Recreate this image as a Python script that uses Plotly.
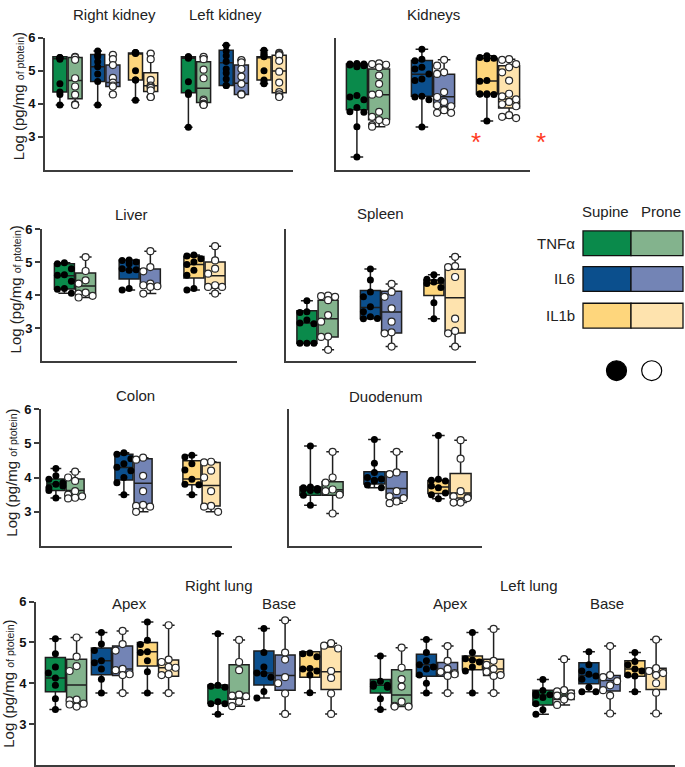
import plotly.graph_objects as go

W, H = 685, 767

# ---------------- data ----------------
CYTOKINES = ["TNFα", "IL6", "IL1b"]
POSITIONS = ["Supine", "Prone"]
# order inside every group: TNFα-Supine, TNFα-Prone, IL6-Supine, IL6-Prone, IL1b-Supine, IL1b-Prone

right_kidney_pts = [
    [5.40, 5.40, 5.38, 5.35, 4.60, 4.35, 4.28, 3.96],
    [5.42, 5.40, 5.33, 4.77, 4.52, 4.27, 3.98, 3.96],
    [5.60, 5.47, 5.42, 5.27, 5.12, 4.90, 4.67, 3.96],
    [5.48, 5.35, 5.17, 4.78, 4.64, 4.55, 4.52, 4.28],
    [5.55, 5.55, 5.54, 5.52, 5.00, 4.72, 4.72, 4.10],
    [5.52, 5.35, 4.72, 4.55, 4.52, 4.48, 4.40, 4.20, 4.20],
]
right_kidney_box = [[4.35, 5.36, 5.42], [4.15, 4.70, 5.40], [4.67, 5.12, 5.49],
                    [4.52, 4.64, 5.17], [4.72, 5.52, 5.54], [4.37, 4.54, 4.94]]

left_kidney_pts = [
    [5.42, 5.42, 5.40, 5.38, 4.66, 4.33, 4.28, 3.28],
    [5.42, 5.35, 5.03, 4.77, 4.12, 4.08, 4.00, 3.97, 3.96],
    [5.77, 5.60, 5.45, 5.28, 5.05, 4.93, 4.75, 4.55, 4.55],
    [5.32, 5.25, 5.05, 4.82, 4.60, 4.30, 4.28, 4.28],
    [5.62, 5.55, 5.50, 5.45, 5.42, 5.00, 4.72, 4.65, 4.60],
    [5.54, 5.50, 5.47, 5.30, 4.97, 4.64, 4.35, 4.28, 4.22, 4.20],
]
left_kidney_box = [[4.33, 5.38, 5.42], [4.03, 4.47, 5.27], [4.55, 5.24, 5.62],
                   [4.28, 4.62, 5.17], [4.72, 5.40, 5.42], [4.33, 4.99, 5.47]]

kidneys_pts = [
    [5.22, 5.20, 5.20, 5.18, 5.17, 5.15, 5.12, 4.25, 4.20, 4.12, 3.88, 3.75, 3.74, 3.30, 2.38],
    [5.22, 5.20, 5.18, 5.10, 4.85, 4.60, 4.30, 4.27, 3.75, 3.60, 3.50, 3.45, 3.35, 3.30],
    [5.65, 5.35, 5.30, 5.10, 5.05, 4.90, 4.75, 4.70, 4.22, 4.20, 4.12, 3.29],
    [5.33, 5.15, 4.95, 4.90, 4.35, 4.20, 4.05, 3.95, 3.92, 3.80, 3.72, 3.72],
    [5.45, 5.40, 5.38, 5.36, 4.70, 4.68, 4.30, 4.29, 4.28, 4.28, 4.29, 3.47],
    [5.35, 5.33, 5.20, 5.10, 4.95, 4.70, 4.30, 4.22, 4.13, 4.05, 3.98, 3.92, 3.65, 3.60, 3.56],
]
kidneys_box = [[3.81, 5.15, 5.20], [3.51, 4.27, 5.05], [4.22, 4.89, 5.31],
               [3.91, 4.21, 4.89], [4.29, 4.69, 5.38], [3.87, 4.14, 5.15]]

liver_pts = [
    [4.98, 4.95, 4.80, 4.62, 4.60, 4.42, 4.20, 4.18, 4.06],
    [5.15, 4.73, 4.45, 4.35, 4.08, 4.05, 3.98, 3.93],
    [5.06, 5.05, 5.00, 4.95, 4.80, 4.77, 4.75, 4.20, 4.16],
    [5.33, 4.85, 4.72, 4.35, 4.30, 4.27, 4.25, 4.05],
    [5.21, 5.18, 5.10, 5.00, 4.93, 4.75, 4.60, 4.20, 4.16],
    [5.48, 5.05, 4.80, 4.65, 4.30, 4.25, 4.25, 4.05],
]
liver_box = [[4.19, 4.59, 4.95], [4.05, 4.28, 4.67], [4.49, 4.76, 5.06],
             [4.27, 4.34, 4.79], [4.52, 4.93, 5.17], [4.22, 4.59, 5.00]]

spleen_pts = [
    [3.83, 3.50, 3.48, 3.25, 3.16, 3.14, 2.55, 2.55, 2.55],
    [3.99, 3.97, 3.95, 3.85, 3.40, 3.20, 2.75, 2.74, 2.35],
    [4.79, 4.46, 4.10, 3.95, 3.65, 3.50, 3.35, 3.30, 3.29],
    [4.34, 4.10, 3.95, 3.60, 3.20, 2.88, 2.85, 2.45],
    [4.62, 4.48, 4.45, 4.40, 4.35, 4.23, 3.77, 3.29],
    [5.16, 4.88, 4.85, 4.55, 3.29, 2.92, 2.85, 2.45],
]
spleen_box = [[2.55, 3.16, 3.53], [2.74, 3.29, 3.85], [3.29, 3.63, 4.14],
              [2.86, 3.49, 4.12], [3.99, 4.36, 4.46], [2.86, 3.92, 4.78]]

colon_pts = [
    [4.26, 4.05, 3.95, 3.85, 3.80, 3.75, 3.70, 3.62, 3.40],
    [4.17, 4.00, 3.90, 3.60, 3.50, 3.45, 3.41, 3.39],
    [4.72, 4.68, 4.55, 4.40, 4.30, 4.20, 4.00, 3.85, 3.50],
    [4.58, 4.52, 4.05, 3.60, 3.20, 3.17, 3.15, 3.00],
    [4.65, 4.60, 4.40, 4.22, 3.95, 3.80, 3.79, 3.50],
    [4.46, 4.44, 4.20, 4.00, 3.60, 3.17, 3.15, 3.00],
]
colon_box = [[3.62, 3.81, 3.96], [3.43, 3.62, 3.96], [3.93, 4.29, 4.68],
             [3.17, 3.83, 4.55], [3.79, 3.96, 4.49], [3.17, 3.77, 4.44]]

duodenum_pts = [
    [4.92, 3.72, 3.70, 3.68, 3.65, 3.63, 3.62, 3.48, 3.19],
    [4.75, 4.00, 3.85, 3.65, 3.60, 3.50, 2.95],
    [5.11, 4.42, 4.15, 4.00, 3.96, 3.92, 3.90, 3.78, 3.70],
    [4.75, 4.15, 4.10, 3.60, 3.45, 3.40, 3.30, 3.25],
    [5.23, 3.95, 3.92, 3.90, 3.75, 3.70, 3.55, 3.50, 3.38],
    [5.09, 4.55, 3.60, 3.45, 3.42, 3.40, 3.27, 3.27],
]
duodenum_box = [[3.48, 3.63, 3.72], [3.48, 3.64, 3.88], [3.81, 3.96, 4.17],
                [3.40, 3.68, 4.17], [3.53, 3.72, 3.91], [3.40, 3.55, 4.12]]

right_apex_pts = [
    [5.09, 4.72, 4.40, 4.25, 4.13, 3.95, 3.62, 3.36],
    [5.12, 4.65, 4.42, 4.30, 3.60, 3.58, 3.50, 3.48, 3.43],
    [5.24, 4.96, 4.80, 4.55, 4.50, 4.35, 4.10, 3.76],
    [5.28, 4.96, 4.80, 4.35, 4.32, 4.22, 4.20, 3.76],
    [5.50, 5.05, 4.95, 4.77, 4.75, 4.55, 4.28, 3.76],
    [5.42, 4.58, 4.52, 4.40, 4.38, 4.22, 4.20, 3.76],
]
right_apex_box = [[3.79, 4.13, 4.63], [3.50, 3.96, 4.59], [4.21, 4.55, 4.86],
                  [4.19, 4.35, 4.91], [4.42, 4.77, 5.00], [4.17, 4.38, 4.57]]

right_base_pts = [
    [5.21, 3.95, 3.93, 3.90, 3.55, 3.50, 3.50, 3.24],
    [5.06, 4.52, 4.32, 3.72, 3.70, 3.68, 3.55, 3.44],
    [5.34, 4.75, 4.40, 4.25, 4.23, 4.15, 3.80, 3.64],
    [5.54, 4.75, 4.58, 4.15, 4.00, 3.75, 3.25],
    [4.74, 4.72, 4.65, 4.36, 4.35, 4.30, 4.20, 3.77],
    [4.98, 4.92, 4.85, 4.30, 4.13, 3.75, 3.25],
]
right_base_box = [[3.51, 3.89, 3.96], [3.61, 3.75, 4.45], [3.96, 4.25, 4.79],
                  [3.83, 4.19, 4.69], [4.15, 4.35, 4.77], [3.85, 4.28, 4.89]]

left_apex_pts = [
    [4.67, 4.05, 3.98, 3.95, 3.93, 3.90, 3.62, 3.36],
    [4.87, 4.38, 4.10, 3.92, 3.55, 3.45, 3.43, 3.43],
    [5.07, 4.75, 4.55, 4.45, 4.40, 4.35, 4.20, 4.00, 3.76],
    [4.91, 4.55, 4.35, 4.28, 4.25, 4.22, 4.18, 3.76],
    [5.24, 4.75, 4.60, 4.57, 4.52, 4.40, 4.30, 3.76],
    [5.33, 4.55, 4.45, 4.35, 4.28, 4.20, 4.18, 3.76],
]
left_apex_box = [[3.76, 3.95, 4.09], [3.43, 3.71, 4.33], [4.17, 4.45, 4.71],
                 [4.17, 4.27, 4.51], [4.33, 4.57, 4.67], [4.19, 4.35, 4.59]]

left_base_pts = [
    [4.09, 3.82, 3.75, 3.72, 3.70, 3.65, 3.50, 3.35, 3.24],
    [4.59, 3.83, 3.80, 3.75, 3.70, 3.68, 3.60, 3.47],
    [4.77, 4.45, 4.30, 4.22, 4.18, 4.10, 3.90, 3.79, 3.79],
    [4.91, 4.20, 4.15, 4.05, 3.95, 3.83, 3.70, 3.26],
    [4.75, 4.53, 4.45, 4.35, 4.30, 4.20, 4.18, 3.79],
    [5.07, 4.37, 4.30, 4.25, 4.20, 4.00, 3.77, 3.26],
]
left_base_box = [[3.47, 3.71, 3.83], [3.60, 3.71, 3.83], [3.99, 4.19, 4.50],
                 [3.81, 4.07, 4.19], [4.17, 4.35, 4.55], [3.85, 4.25, 4.37]]

Y_TICKS = [3, 4, 5, 6]

# ---------------- style ----------------
FILL = {
    ("TNFα", "Supine"): "#0a8a4b", ("TNFα", "Prone"): "#83b38d",
    ("IL6", "Supine"): "#0b4f8d", ("IL6", "Prone"): "#7384b5",
    ("IL1b", "Supine"): "#fed67c", ("IL1b", "Prone"): "#fee3ae",
}
AX = "#3c3c3c"
FONT = "Liberation Sans, Arial, sans-serif"
TXT = "#222222"

# panel layout (pixel frame of axes, box placement parameters)
panels = [
    dict(groups=[(right_kidney_pts, right_kidney_box), (left_kidney_pts, left_kidney_box)],
         px=(45, 293), py=(31, 164), ticks=True, first=22.5, step=37.8, gstep=128.5, w=14),
    dict(groups=[(kidneys_pts, kidneys_box)],
         px=(336, 530), py=(31, 164), ticks=False, first=32, step=65, gstep=0, w=21),
    dict(groups=[(liver_pts, liver_box)],
         px=(42, 237), py=(224, 357.7), ticks=True, first=33, step=64.75, gstep=0, w=20),
    dict(groups=[(spleen_pts, spleen_box)],
         px=(286, 476), py=(224, 357.7), ticks=False, first=31.5, step=63.5, gstep=0, w=20),
    dict(groups=[(colon_pts, colon_box)],
         px=(41, 232), py=(405.7, 544), ticks=True, first=24.5, step=68, gstep=0, w=18),
    dict(groups=[(duodenum_pts, duodenum_box)],
         px=(289, 482), py=(405.7, 544), ticks=False, first=32.5, step=64, gstep=0, w=21),
    dict(groups=[(right_apex_pts, right_apex_box), (right_base_pts, right_base_box),
                 (left_apex_pts, left_apex_box), (left_base_pts, left_base_box)],
         px=(36, 675), py=(600, 765), ticks=True, first=30, step=46, gstep=162.5, w=20),
]


def px2x(p):
    return p / W


def px2y(p):
    return 1 - p / H


def spread(vals, width, unit_px, msize):
    """deterministic beeswarm-like horizontal offsets (x units are pixels)"""
    thr = msize / unit_px
    stp = msize
    maxoff = width / 2 - 2
    cands = [0.0]
    k = 1
    while k * stp <= maxoff + 0.01:
        cands += [-k * stp, k * stp]
        k += 1
    placed, offs = [], []
    for i, v in enumerate(vals):
        chosen = None
        for c in cands:
            if all(abs(v - pv) >= thr or abs(c - po) >= stp * 0.95 for pv, po in placed):
                chosen = c
                break
        if chosen is None:
            chosen = cands[i % len(cands)]
        placed.append((v, chosen))
        offs.append(chosen)
    return offs


fig = go.Figure()
layout = dict(width=W, height=H, margin=dict(l=0, r=0, t=0, b=0),
              paper_bgcolor="white", plot_bgcolor="white", showlegend=False,
              boxmode="overlay", font=dict(family=FONT, color=TXT))

MS = 7
for k, p in enumerate(panels, start=1):
    sx = "" if k == 1 else str(k)
    x0, x1 = p["px"]
    y6, y2 = p["py"]
    unit_px = (y2 - y6) / 4.0
    layout["xaxis" + sx] = dict(domain=[px2x(x0), px2x(x1)], range=[0, x1 - x0],
                                showline=True, linecolor=AX, linewidth=2, showgrid=False,
                                zeroline=False, showticklabels=False, ticks="",
                                anchor="y" + sx, fixedrange=True)
    yax = dict(domain=[px2y(y2), px2y(y6)], range=[2, 6], showline=True, linecolor=AX,
               linewidth=2, showgrid=False, zeroline=False, anchor="x" + sx, fixedrange=True)
    if p["ticks"]:
        yax.update(tickvals=Y_TICKS, ticktext=[f"<b>{t}</b>" for t in Y_TICKS], ticks="outside",
                   ticklen=5, tickwidth=2, tickcolor=AX,
                   tickfont=dict(size=13, color="#111111", family=FONT))
    else:
        yax.update(showticklabels=False, ticks="")
    layout["yaxis" + sx] = yax

    sup_x, sup_y, pro_x, pro_y = [], [], [], []
    for g, (pts, boxes) in enumerate(p["groups"]):
        for ci, cyt in enumerate(CYTOKINES):
            pc = p["first"] + g * p["gstep"] + ci * p["step"]
            for pi, pos in enumerate(POSITIONS):
                idx = ci * 2 + pi
                w = p["w"]
                cx = pc + (-1 if pi == 0 else 1) * (w / 2 + 0.6)
                vals = pts[idx]
                q1, med, q3 = boxes[idx]
                fig.add_trace(go.Box(
                    x=[cx], q1=[q1], median=[med], q3=[q3],
                    lowerfence=[min(vals)], upperfence=[max(vals)],
                    width=w, whiskerwidth=0.6, fillcolor=FILL[(cyt, pos)],
                    line=dict(color="#1e1e1e", width=1.5), boxpoints=False,
                    hoverinfo="skip", xaxis="x" + sx, yaxis="y" + sx,
                ))
                offs = spread(vals, w, unit_px, MS)
                if pi == 0:
                    sup_x += [cx + o for o in offs]
                    sup_y += vals
                else:
                    pro_x += [cx + o for o in offs]
                    pro_y += vals
    fig.add_trace(go.Scatter(x=sup_x, y=sup_y, mode="markers", hoverinfo="skip",
                             marker=dict(size=MS, color="black", line=dict(width=0)),
                             xaxis="x" + sx, yaxis="y" + sx))
    fig.add_trace(go.Scatter(x=pro_x, y=pro_y, mode="markers", hoverinfo="skip",
                             marker=dict(size=MS, color="white", line=dict(width=1.2, color="#2a2a2a")),
                             xaxis="x" + sx, yaxis="y" + sx))

ann = []


def text(t, xpx, ypx, size=15, angle=0, color=TXT, xanchor="center"):
    ann.append(dict(text=t, x=px2x(xpx), y=px2y(ypx), xref="paper", yref="paper",
                    showarrow=False, xanchor=xanchor, yanchor="middle", textangle=angle,
                    font=dict(size=size, color=color, family=FONT)))


# panel titles
text("Right kidney", 115, 8)
text("Left kidney", 225, 8)
text("Kidneys", 433, 8)
text("Liver", 131, 209)
text("Spleen", 380, 208)
text("Colon", 135, 392)
text("Duodenum", 385, 393)
text("Right lung", 219, 584)
text("Apex", 129, 602)
text("Base", 279, 602)
text("Left lung", 529, 584)
text("Apex", 450, 602)
text("Base", 607, 602)

# y axis titles
ytitle = "Log (pg/mg <span style='font-size:10.5px'>of ptotein</span>)"
text(ytitle, 18, 90, size=15, angle=-90)
text(ytitle, 15, 285, size=15, angle=-90)
text(ytitle, 12, 470, size=15, angle=-90)
text(ytitle, 9, 683, size=15, angle=-90)

# significance asterisks
text("*", 476, 136, size=26, color="#ff3b1f")
text("*", 541, 136, size=26, color="#ff3b1f")

# legend
text("Supine", 605, 206)
text("Prone", 683, 206, xanchor="right")
shapes = []
leg_rows = [226, 262, 299]
for ci, cyt in enumerate(CYTOKINES):
    top = leg_rows[ci]
    text(cyt, 577, top + 12.5, xanchor="right")
    for pi, pos in enumerate(POSITIONS):
        xa, xb = (583, 631) if pi == 0 else (631, 683)
        shapes.append(dict(type="rect", xref="paper", yref="paper",
                           x0=px2x(xa), x1=px2x(xb), y0=px2y(top + 25), y1=px2y(top),
                           fillcolor=FILL[(cyt, pos)], line=dict(color="#111111", width=1.3)))
for cxp, fc in [(616.5, "black"), (651.7, "white")]:
    shapes.append(dict(type="circle", xref="paper", yref="paper",
                       x0=px2x(cxp - 10), x1=px2x(cxp + 10), y0=px2y(377), y1=px2y(357),
                       fillcolor=fc, line=dict(color="black", width=1.2)))

layout["annotations"] = ann
layout["shapes"] = shapes
fig.update_layout(**layout)
fig.write_html(
    "out.html",
    config={"displayModeBar": False},
    post_script="document.body.style.margin='0';document.body.style.overflow='hidden';"
                "document.documentElement.style.overflow='hidden';",
)
